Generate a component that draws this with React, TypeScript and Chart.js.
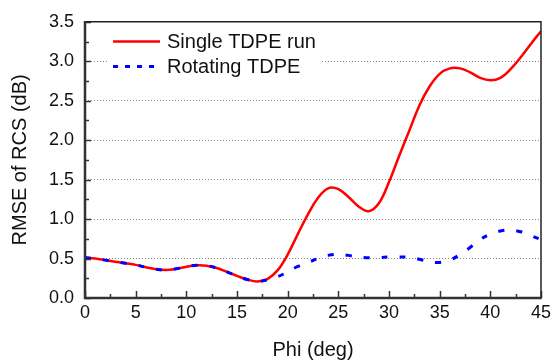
import React, { useEffect, useRef } from "react";
import { Chart, registerables } from "chart.js";

Chart.register(...registerables);

const phi = [0, 1, 2, 3, 4, 5, 6, 7, 8, 9, 10, 11, 12, 13, 14, 15, 16, 17, 18, 19, 20, 21, 22, 23, 24, 25, 26, 27, 28, 29, 30, 31, 32, 33, 34, 35, 36, 37, 38, 39, 40, 41, 42, 43, 44, 45];
const singleRun = [0.51, 0.5, 0.48, 0.46, 0.44, 0.42, 0.39, 0.365, 0.355, 0.37, 0.395, 0.415, 0.41, 0.38, 0.33, 0.28, 0.235, 0.21, 0.24, 0.35, 0.55, 0.81, 1.06, 1.27, 1.39, 1.38, 1.28, 1.16, 1.1, 1.2, 1.47, 1.8, 2.12, 2.44, 2.68, 2.84, 2.91, 2.91, 2.86, 2.79, 2.76, 2.79, 2.9, 3.05, 3.22, 3.38];
const rotating = [0.51, 0.5, 0.48, 0.46, 0.44, 0.42, 0.39, 0.365, 0.355, 0.37, 0.395, 0.415, 0.41, 0.38, 0.33, 0.28, 0.235, 0.21, 0.23, 0.27, 0.33, 0.4, 0.45, 0.5, 0.54, 0.555, 0.54, 0.52, 0.51, 0.51, 0.52, 0.52, 0.515, 0.49, 0.46, 0.45, 0.48, 0.55, 0.64, 0.74, 0.81, 0.85, 0.86, 0.84, 0.79, 0.74];
const seriesLabels = ["Single TDPE run", "Rotating TDPE"];
const xTitle = "Phi (deg)";
const yTitle = "RMSE of RCS (dB)";

const FONT = "'Liberation Sans', Arial, sans-serif";

const framePlugin = {
  id: "frameAndTicks",
  afterDraw(chart: any) {
    const { ctx, chartArea: a, scales } = chart;
    const xs = scales.x;
    const ys = scales.y;
    ctx.save();
    ctx.strokeStyle = "#333";
    ctx.lineWidth = 1.5;
    for (let v = 0; v <= 3.5001; v += 0.25) {
      const y = Math.round(ys.getPixelForValue(v)) + 0.5;
      const major = Math.abs(v * 2 - Math.round(v * 2)) < 1e-6;
      ctx.beginPath();
      ctx.moveTo(a.left, y);
      ctx.lineTo(a.left + (major ? 6 : 4), y);
      ctx.stroke();
    }
    for (let v = 0; v <= 45.001; v += 2.5) {
      const x = Math.round(xs.getPixelForValue(v)) + 0.5;
      const major = Math.abs(v / 5 - Math.round(v / 5)) < 1e-6;
      ctx.beginPath();
      ctx.moveTo(x, a.bottom);
      ctx.lineTo(x, a.bottom - (major ? 7 : 4));
      ctx.stroke();
    }
    ctx.strokeStyle = "#222";
    ctx.lineWidth = 1.5;
    ctx.beginPath();
    ctx.moveTo(a.left, a.top);
    ctx.lineTo(a.right, a.top);
    ctx.lineTo(a.right, a.bottom);
    ctx.stroke();
    ctx.strokeStyle = "#333";
    ctx.lineWidth = 2.5;
    ctx.beginPath();
    ctx.moveTo(a.left, a.top - 0.75);
    ctx.lineTo(a.left, a.bottom);
    ctx.lineTo(a.right + 0.75, a.bottom);
    ctx.stroke();
    ctx.restore();
  },
};

const legendPlugin = {
  id: "insideLegend",
  afterDatasetsDraw(chart: any) {
    const { ctx } = chart;
    const ds = chart.data.datasets;
    ctx.save();
    ctx.fillStyle = "#fff";
    ctx.fillRect(108, 28, 214, 52);
    const rows = [
      { y: 41.5, ds: ds[1], dash: [] as number[] },
      { y: 66.5, ds: ds[0], dash: [5, 7] },
    ];
    rows.forEach((r) => {
      ctx.strokeStyle = r.ds.borderColor;
      ctx.lineWidth = r.ds.borderWidth;
      ctx.setLineDash(r.dash);
      ctx.beginPath();
      ctx.moveTo(113, r.y);
      ctx.lineTo(160, r.y);
      ctx.stroke();
      ctx.setLineDash([]);
      ctx.fillStyle = "#111";
      ctx.font = `20px ${FONT}`;
      ctx.textAlign = "left";
      ctx.textBaseline = "middle";
      ctx.fillText(r.ds.label, 167, r.y + 1);
    });
    ctx.restore();
  },
};

export default function App() {
  const ref = useRef<HTMLCanvasElement | null>(null);
  useEffect(() => {
    if (!ref.current) return;
    Chart.defaults.font.family = FONT;
    const chart = new Chart(ref.current, {
      type: "line",
      data: {
        datasets: [
          {
            label: seriesLabels[1],
            data: phi.map((x, i) => ({ x, y: rotating[i] })),
            borderColor: "#0000ff",
            borderWidth: 3,
            borderDash: [6, 12],
            pointRadius: 0,
            tension: 0.4,
            fill: false,
          },
          {
            label: seriesLabels[0],
            data: phi.map((x, i) => ({ x, y: singleRun[i] })),
            borderColor: "#ff0000",
            borderWidth: 2.5,
            pointRadius: 0,
            tension: 0.4,
            fill: false,
          },
        ],
      },
      options: {
        animation: false,
        responsive: false,
        maintainAspectRatio: false,
        layout: { padding: { top: 14, right: 11, left: 0, bottom: 0 } },
        plugins: { legend: { display: false }, tooltip: { enabled: false } },
        scales: {
          x: {
            type: "linear",
            min: 0,
            max: 45,
            ticks: { stepSize: 5, color: "#111", font: { size: 18 }, padding: 4, maxRotation: 0 },
            grid: { display: false, drawTicks: false },
            border: { display: false },
            title: { display: true, text: xTitle, color: "#111", font: { size: 20 }, padding: { top: 0, bottom: 2 } },
            afterFit: (s: any) => {
              s.height = 66;
            },
          },
          y: {
            type: "linear",
            min: 0,
            max: 3.5,
            ticks: {
              stepSize: 0.5,
              color: "#111",
              font: { size: 18 },
              padding: 11,
              callback: (v: any) => Number(v).toFixed(1),
            },
            grid: {
              drawTicks: false,
              color: (c: any) => (c.tick && (c.tick.value === 0 || c.tick.value === 3.5) ? "rgba(0,0,0,0)" : "#8a8a8a"),
              lineWidth: 1,
            },
            border: { display: false, dash: [1, 2] },
            title: { display: true, text: yTitle, color: "#111", font: { size: 20 }, padding: { top: 8, bottom: 0 } },
            afterFit: (s: any) => {
              s.width = 85;
            },
          },
        },
      },
      plugins: [legendPlugin, framePlugin],
    });
    return () => chart.destroy();
  }, []);
  return (
    <div style={{ position: "fixed", left: 0, top: 0, width: 555, height: 364, background: "#fff" }}>
      <canvas ref={ref} width={555} height={364} style={{ width: 555, height: 364, display: "block" }} />
    </div>
  );
}
